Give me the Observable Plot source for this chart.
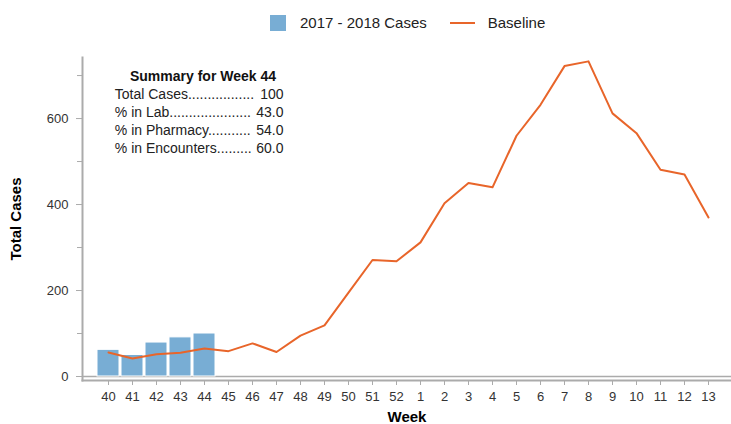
<!DOCTYPE html>
<html>
<head>
<meta charset="utf-8">
<script src="https://cdn.jsdelivr.net/npm/d3@7"></script>
<script src="https://cdn.jsdelivr.net/npm/@observablehq/plot@0.6"></script>
<style>
  html, body { margin: 0; padding: 0; background: #fff; overflow: hidden; }
  body { font-family: Arial, "Liberation Sans", sans-serif; width: 731px; height: 424px; }
  #legend { position: relative; height: 40px; }
  #legend .items { position: absolute; left: 270px; top: 14px; display: flex; align-items: center; font-size: 15px; color: #222; }
  .sw-bar { width: 16px; height: 16px; margin-right: 14px; }
  .sw-line { width: 25px; height: 2px; margin-left: 23px; margin-right: 13px; }
</style>
</head>
<body>
<div id="legend"></div>
<div id="chart"></div>
<script>
// ---- data ----
const weeks = ["40","41","42","43","44","45","46","47","48","49","50","51","52",
               "1","2","3","4","5","6","7","8","9","10","11","12","13"];
const caseWeeks = ["40","41","42","43","44"];
const cases = [62, 50, 79, 91, 100];
const baseline = [56, 42, 52, 55, 65, 59, 77, 57, 95, 119, 195, 271, 268,
                  312, 403, 450, 440, 560, 632, 722, 733, 612, 566, 481, 470, 370];
const yMajorTicks = [0, 200, 400, 600];
const yMinorTicks = [100, 300, 500, 700];
const seriesNames = ["2017 - 2018 Cases", "Baseline"];
const summaryTitle = "Summary for Week 44";
const summaryLabels = ["Total Cases.................", "% in Lab.....................", "% in Pharmacy...........", "% in Encounters........."];
const summaryValues = ["100", "43.0", "54.0", "60.0"];

const barColor = "#78ADD4";
const lineColor = "#E8652A";
const axisColor = "#ABABAB";

// ---- legend ----
const leg = document.createElement("div");
leg.className = "items";
leg.innerHTML =
  `<div class="sw-bar" style="background:${barColor}"></div><span>${seriesNames[0]}</span>` +
  `<div class="sw-line" style="background:${lineColor}"></div><span>${seriesNames[1]}</span>`;
document.getElementById("legend").appendChild(leg);

// ---- tables ----
const barData = caseWeeks.map((w, i) => ({week: w, cases: cases[i]}));
const lineData = weeks.map((w, i) => ({week: w, baseline: baseline[i]}));

const chart = Plot.plot({
  width: 731,
  height: 384,
  marginLeft: 82,
  marginRight: 0,
  marginTop: 17,
  marginBottom: 44,
  style: {fontFamily: "Arial, 'Liberation Sans', sans-serif", fontSize: "13px", color: "#333", background: "#fff"},
  x: {type: "band", domain: weeks, range: [82, 733], paddingInner: 0.1, paddingOuter: 0.54},
  y: {domain: [-9.3, 742]},
  marks: [
    Plot.ruleY([0], {stroke: axisColor, strokeWidth: 1.5}),
    Plot.barY(barData, {x: "week", y: "cases", fill: barColor, stroke: "white", strokeWidth: 1}),
    Plot.lineY(lineData, {x: "week", y: "baseline", stroke: lineColor, strokeWidth: 2}),
    Plot.frame({anchor: "left", stroke: axisColor, strokeWidth: 2}),
    Plot.frame({anchor: "bottom", stroke: axisColor, strokeWidth: 2}),
    Plot.axisY({ticks: yMajorTicks, tickSize: 6, tickPadding: 8, stroke: axisColor, fill: "#333",
                label: "Total Cases", labelAnchor: "center", labelOffset: 72, labelArrow: "none"}),
    Plot.axisY({ticks: yMinorTicks, tickSize: 5, tickFormat: () => "", stroke: axisColor, label: null}),
    Plot.axisX({tickSize: 5, tickPadding: 6, stroke: axisColor, fill: "#333",
                label: "Week", labelAnchor: "center", labelOffset: 41, labelArrow: "none"}),
    Plot.text([summaryTitle], {text: d => d, frameAnchor: "top-left", dx: 120.5, dy: 19,
                               textAnchor: "middle", lineAnchor: "middle", fontWeight: "bold", fontSize: 14, fill: "#111"}),
    Plot.text([summaryLabels.join("\n")], {text: d => d, frameAnchor: "top-left", dx: 32.3, dy: 28.5,
                               textAnchor: "start", lineAnchor: "top", lineHeight: 18 / 14, fontSize: 14, fill: "#222"}),
    Plot.text([summaryValues.join("\n")], {text: d => d, frameAnchor: "top-left", dx: 201, dy: 28.5,
                               textAnchor: "end", lineAnchor: "top", lineHeight: 18 / 14, fontSize: 14, fill: "#222"})
  ]
});
// bold axis labels
chart.querySelectorAll("[aria-label='y-axis label'] text, [aria-label='x-axis label'] text").forEach(t => {
  t.setAttribute("font-weight", "bold");
  t.setAttribute("font-size", "15");
  t.setAttribute("fill", "#000");
});
document.getElementById("chart").appendChild(chart);
</script>
</body>
</html>
